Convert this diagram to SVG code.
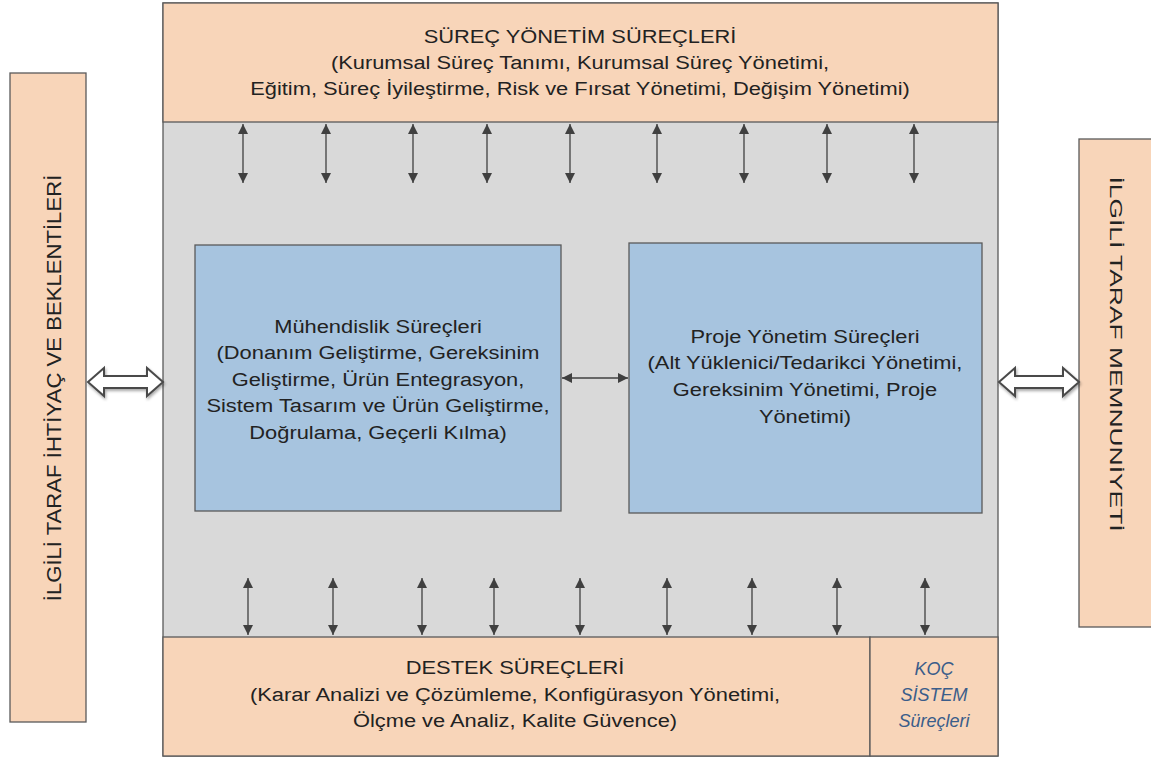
<svg xmlns="http://www.w3.org/2000/svg" width="1151" height="758" viewBox="0 0 1151 758">
<style>
.peach{fill:#F8D5B9;stroke:#5a5a5a;stroke-width:1.3}
.grey{fill:#D9D9D9;stroke:#5a5a5a;stroke-width:1.3}
.blue{fill:#A7C4DF;stroke:#5a5a5a;stroke-width:1.3}
.t{font-family:"Liberation Sans",Arial,sans-serif;font-size:19px;fill:#222222;text-anchor:middle}
.k{font-family:"Liberation Sans",Arial,sans-serif;font-size:18px;fill:#3b5d8a;text-anchor:middle;font-style:italic}
.ar{stroke:#404040;stroke-width:1.3;fill:none;marker-start:url(#ah);marker-end:url(#ah)}
.hol{fill:#ffffff;stroke:#4a4a4a;stroke-width:2;filter:url(#sh)}
</style>
<defs>
<marker id="ah" viewBox="0 0 10 10" refX="10" refY="5" markerWidth="11" markerHeight="10" orient="auto-start-reverse" markerUnits="userSpaceOnUse">
<path d="M0,0 L10,5 L0,10 Z" fill="#404040"/>
</marker>
<filter id="sh" x="-20%" y="-50%" width="140%" height="200%">
<feGaussianBlur in="SourceAlpha" stdDeviation="1.5"/>
<feOffset dx="1" dy="2" result="b"/>
<feComponentTransfer><feFuncA type="linear" slope="0.35"/></feComponentTransfer>
<feMerge><feMergeNode/><feMergeNode in="SourceGraphic"/></feMerge>
</filter>
</defs>
<rect width="1151" height="758" fill="#ffffff"/>

<g id="main">
<rect class="grey" x="163" y="3" width="835" height="753"/>
</g>
<g id="surec-yonetim">
<rect class="peach" x="163" y="3" width="835" height="119"/>
<g transform="translate(580,0) scale(1.15,1)">
<text class="t" x="0" y="43">SÜREÇ YÖNETİM SÜREÇLERİ</text>
<text class="t" x="0" y="69">(Kurumsal Süreç Tanımı, Kurumsal Süreç Yönetimi,</text>
<text class="t" x="0" y="95">Eğitim, Süreç İyileştirme, Risk ve Fırsat Yönetimi, Değişim Yönetimi)</text>
</g>
</g>
<g id="destek">
<rect class="peach" x="163" y="637" width="707" height="119"/>
<g transform="translate(515,0) scale(1.15,1)">
<text class="t" x="0" y="674">DESTEK SÜREÇLERİ</text>
<text class="t" x="0" y="701">(Karar Analizi ve Çözümleme, Konfigürasyon Yönetimi,</text>
<text class="t" x="0" y="727">Ölçme ve Analiz, Kalite Güvence)</text>
</g>
</g>
<g id="koc">
<rect class="peach" x="870" y="637" width="128" height="119"/>
<text class="k" x="934" y="675">KOÇ</text>
<text class="k" x="934" y="701">SİSTEM</text>
<text class="k" x="934" y="727">Süreçleri</text>
</g>
<g id="muhendislik">
<rect class="blue" x="195" y="245" width="366" height="266"/>
<g transform="translate(378,0) scale(1.15,1)">
<text class="t" x="0" y="333">Mühendislik Süreçleri</text>
<text class="t" x="0" y="359">(Donanım Geliştirme, Gereksinim</text>
<text class="t" x="0" y="386">Geliştirme, Ürün Entegrasyon,</text>
<text class="t" x="0" y="412">Sistem Tasarım ve Ürün Geliştirme,</text>
<text class="t" x="0" y="439">Doğrulama, Geçerli Kılma)</text>
</g>
</g>
<g id="proje">
<rect class="blue" x="629" y="243" width="353" height="270"/>
<g transform="translate(805,0) scale(1.15,1)">
<text class="t" x="0" y="343">Proje Yönetim Süreçleri</text>
<text class="t" x="0" y="369">(Alt Yüklenici/Tedarikci Yönetimi,</text>
<text class="t" x="0" y="396">Gereksinim Yönetimi, Proje</text>
<text class="t" x="0" y="423">Yönetimi)</text>
</g>
</g>
<g id="ilgili-ihtiyac">
<rect class="peach" x="10" y="73" width="76" height="649"/>
<text class="t" style="font-size:20px" transform="translate(61,388) rotate(-90) scale(1.107,1)">İLGİLİ TARAF İHTİYAÇ VE BEKLENTİLERİ</text>
</g>
<g id="ilgili-memnuniyet">
<rect class="peach" x="1079" y="139" width="80" height="488"/>
<text class="t" style="font-size:16.5px" transform="translate(1110,354) rotate(90) scale(1.6,1)">İLGİLİ TARAF MEMNUNİYETİ</text>
</g>

<g id="connectors">
<path class="ar" d="M243,124V183"/>
<path class="ar" d="M326,124V183"/>
<path class="ar" d="M413,124V183"/>
<path class="ar" d="M487,124V183"/>
<path class="ar" d="M570,124V183"/>
<path class="ar" d="M657,124V183"/>
<path class="ar" d="M744,124V183"/>
<path class="ar" d="M827,124V183"/>
<path class="ar" d="M914,124V183"/>
<path class="ar" d="M248,578V635"/>
<path class="ar" d="M333,578V635"/>
<path class="ar" d="M422,578V635"/>
<path class="ar" d="M494,578V635"/>
<path class="ar" d="M580,578V635"/>
<path class="ar" d="M667,578V635"/>
<path class="ar" d="M752,578V635"/>
<path class="ar" d="M837,578V635"/>
<path class="ar" d="M925,578V635"/>
<path class="ar" d="M562,378H628"/>
<polygon class="hol" points="88,382 104,368 104,376 147,376 147,368 163,382 147,396 147,388 104,388 104,396"/>
<polygon class="hol" points="999,382 1015,368 1015,376 1063,376 1063,368 1079,382 1063,396 1063,388 1015,388 1015,396"/>
</g>
</svg>
